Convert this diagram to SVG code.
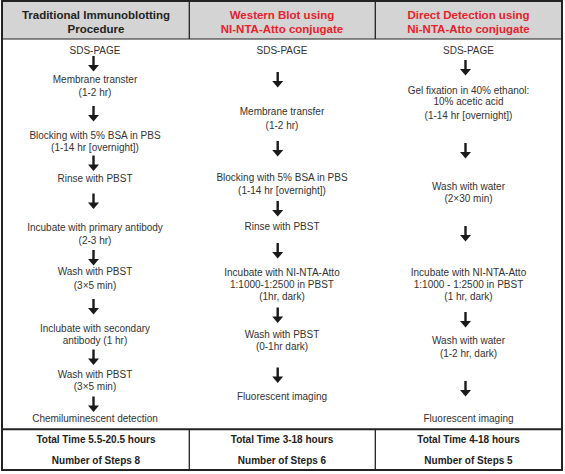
<svg xmlns="http://www.w3.org/2000/svg" xmlns:xlink="http://www.w3.org/1999/xlink" width="565" height="474" viewBox="0 0 565 474">
<style>
.t{font-family:"Liberation Sans",Arial,sans-serif;font-size:10px;fill:#333;text-anchor:middle}
.h{font-family:"Liberation Sans",Arial,sans-serif;font-size:11.5px;font-weight:bold;fill:#222;text-anchor:middle}
.r{fill:#e8212b}
.f{font-family:"Liberation Sans",Arial,sans-serif;font-size:10px;font-weight:bold;fill:#222;text-anchor:middle}
.ln{stroke:#222;fill:none}
</style>
<defs>
<g id="arw" fill="#1a1a1a"><rect x="-1.2" y="0" width="2.4" height="10"/><polygon points="-5.5,9 5.5,9 0,15.5"/></g>
</defs>
<rect x="0" y="0" width="565" height="474" fill="#fff"/>
<g id="frame">
<rect x="2" y="1" width="560" height="38" fill="#d4d4d4"/>
<line class="ln" x1="2" y1="39" x2="562" y2="39" stroke-width="1.2"/>
<line class="ln" x1="189.3" y1="1" x2="189.3" y2="39" stroke-width="1.3"/>
<line class="ln" x1="375.3" y1="1" x2="375.3" y2="39" stroke-width="1.3"/>
<line class="ln" x1="2" y1="429.2" x2="562" y2="429.2" stroke-width="2"/>
<line class="ln" x1="189.3" y1="429" x2="189.3" y2="470" stroke-width="1.3"/>
<line class="ln" x1="375.3" y1="429" x2="375.3" y2="470" stroke-width="1.3"/>
<rect class="ln" x="2" y="1" width="560" height="469" stroke-width="2"/>
</g>
<g id="headers">
<text class="h" x="96" y="19">Traditional Immunoblotting</text>
<text class="h" x="96" y="33">Procedure</text>
<text class="h r" x="282" y="19">Western Blot using</text>
<text class="h r" x="282" y="33">NI-NTA-Atto conjugate</text>
<text class="h r" x="468.5" y="19">Direct Detection using</text>
<text class="h r" x="468.5" y="33">Ni-NTA-Atto conjugate</text>
</g>
<g id="col1">
<g id="c1s1"><text class="t" x="95" y="53.5">SDS-PAGE</text></g>
<g id="c1s2"><text class="t" x="95" y="82.5">Membrane transter</text><text class="t" x="95" y="95.5">(1-2 hr)</text></g>
<g id="c1s3"><text class="t" x="95" y="138.5">Blocking with 5% BSA in PBS</text><text class="t" x="95" y="150.5">(1-14 hr [overnight])</text></g>
<g id="c1s4"><text class="t" x="95" y="181.5">Rinse with PBST</text></g>
<g id="c1s5"><text class="t" x="95" y="230.5">Incubate with primary antibody</text><text class="t" x="95" y="243.5">(2-3 hr)</text></g>
<g id="c1s6"><text class="t" x="95" y="275">Wash with PBST</text><text class="t" x="95" y="288.5">(3×5 min)</text></g>
<g id="c1s7"><text class="t" x="95" y="331.5">Inclubate with secondary</text><text class="t" x="95" y="344">antibody (1 hr)</text></g>
<g id="c1s8"><text class="t" x="95" y="377.5">Wash with PBST</text><text class="t" x="95" y="390">(3×5 min)</text></g>
<g id="c1s9"><text class="t" x="95" y="421.5">Chemiluminescent detection</text></g>
</g>
<g id="col2">
<g id="c2s1"><text class="t" x="282" y="53.5">SDS-PAGE</text></g>
<g id="c2s2"><text class="t" x="282" y="115">Membrane transfer</text><text class="t" x="282" y="128.5">(1-2 hr)</text></g>
<g id="c2s3"><text class="t" x="282" y="180.5">Blocking with 5% BSA in PBS</text><text class="t" x="282" y="194">(1-14 hr [overnight])</text></g>
<g id="c2s4"><text class="t" x="282" y="230">Rinse with PBST</text></g>
<g id="c2s5"><text class="t" x="282" y="275.5">Incubate with NI-NTA-Atto</text><text class="t" x="282" y="287.5">1:1000-1:2500 in PBST</text><text class="t" x="282" y="300">(1hr, dark)</text></g>
<g id="c2s6"><text class="t" x="282" y="337.5">Wash with PBST</text><text class="t" x="282" y="350">(0-1hr dark)</text></g>
<g id="c2s7"><text class="t" x="282" y="400">Fluorescent imaging</text></g>
</g>
<g id="col3">
<g id="c3s1"><text class="t" x="468.5" y="53.5">SDS-PAGE</text></g>
<g id="c3s2"><text class="t" x="468.5" y="93.5">Gel fixation in 40% ethanol:</text><text class="t" x="468.5" y="105">10% acetic acid</text><text class="t" x="468.5" y="118.5">(1-14 hr [overnight])</text></g>
<g id="c3s3"><text class="t" x="468.5" y="189.5">Wash with water</text><text class="t" x="468.5" y="202">(2×30 min)</text></g>
<g id="c3s4"><text class="t" x="468.5" y="275.5">Incubate with NI-NTA-Atto</text><text class="t" x="468.5" y="287.5">1:1000 - 1:2500 in PBST</text><text class="t" x="468.5" y="299.5">(1 hr, dark)</text></g>
<g id="c3s5"><text class="t" x="468.5" y="344">Wash with water</text><text class="t" x="468.5" y="356.5">(1-2 hr, dark)</text></g>
<g id="c3s6"><text class="t" x="468.5" y="421.5">Fluorescent imaging</text></g>
</g>
<g id="connectors">
<use xlink:href="#arw" x="93.5" y="56"/>
<use xlink:href="#arw" x="93.5" y="106"/>
<use xlink:href="#arw" x="93.5" y="155.5"/>
<use xlink:href="#arw" x="93.5" y="193.5"/>
<use xlink:href="#arw" x="93.5" y="250"/>
<use xlink:href="#arw" x="93.5" y="299"/>
<use xlink:href="#arw" x="93.5" y="349.5"/>
<use xlink:href="#arw" x="93.5" y="396.5"/>
<use xlink:href="#arw" x="277.7" y="72"/>
<use xlink:href="#arw" x="277.7" y="141"/>
<use xlink:href="#arw" x="277.7" y="201"/>
<use xlink:href="#arw" x="277.7" y="243"/>
<use xlink:href="#arw" x="277.7" y="307.5"/>
<use xlink:href="#arw" x="277.7" y="367.5"/>
<use xlink:href="#arw" x="465.5" y="60"/>
<use xlink:href="#arw" x="465.5" y="143"/>
<use xlink:href="#arw" x="465.5" y="226"/>
<use xlink:href="#arw" x="465.5" y="312"/>
<use xlink:href="#arw" x="465.5" y="381"/>
</g>
<g id="footer">
<text class="f" x="96" y="442.5">Total Time 5.5-20.5 hours</text>
<text class="f" x="96" y="463.5">Number of Steps 8</text>
<text class="f r" x="282" y="442.5">Total Time 3-18 hours</text>
<text class="f r" x="282" y="463.5">Number of Steps 6</text>
<text class="f r" x="468.5" y="442.5">Total Time 4-18 hours</text>
<text class="f r" x="468.5" y="463.5">Number of Steps 5</text>
</g>
</svg>
